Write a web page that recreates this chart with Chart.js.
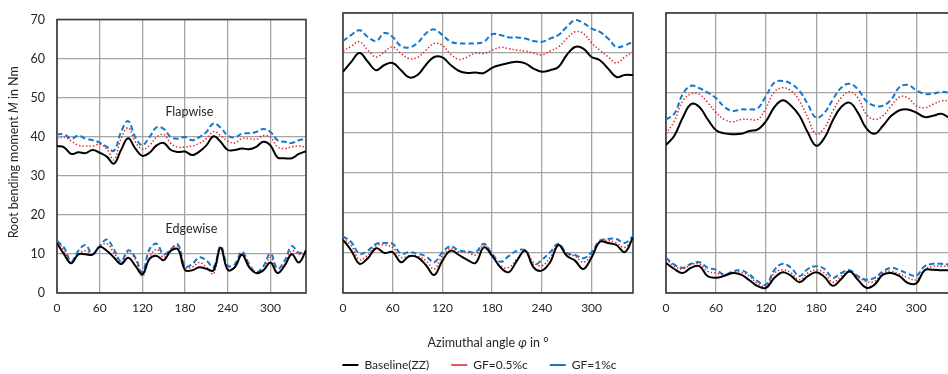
<!DOCTYPE html>
<html>
<head>
<meta charset="utf-8">
<title>Root bending moment</title>
<script src="https://cdn.jsdelivr.net/npm/chart.js@4"></script>
<style>
  html, body { margin: 0; padding: 0; background: #fff; width: 948px; height: 374px; overflow: hidden; }
  canvas { position: absolute; top: 0; }
  #c1 { left: 0; }
  #c2 { left: 280px; }
  #c3 { left: 650px; }
</style>
</head>
<body>
<canvas id="c1" width="308" height="320"></canvas>
<canvas id="c3" width="310" height="320"></canvas>
<canvas id="c2" width="399" height="381"></canvas>
<script>
// azimuthal positions (deg)
const angles = [0, 10, 20, 30, 40, 50, 60, 70, 80, 90, 100, 110, 120, 130, 140, 150, 160, 170,
  180, 190, 200, 210, 220, 230, 240, 250, 260, 270, 280, 290, 300, 310, 320, 330, 340, 350];
const xTicks = [0, 60, 120, 180, 240, 300];
const seriesNames = ["Baseline(ZZ)", "GF=0.5%c", "GF=1%c"];

// case 1
const p1FlapBase = [37.6, 37.3, 35.6, 36.0, 35.8, 36.6, 35.9, 34.9, 33.1, 36.6, 39.6, 37.0, 35.1, 35.9, 37.8, 38.4, 36.6, 36.1,
  36.2, 35.3, 36.2, 37.8, 40.1, 38.7, 36.6, 36.6, 37.0, 36.8, 37.4, 38.7, 37.8, 34.7, 34.5, 34.5, 35.6, 36.3];
const p1FlapHalf = [39.5, 39.9, 38.9, 37.8, 37.6, 37.6, 38.1, 36.8, 34.1, 39.5, 42.3, 38.7, 36.8, 37.8, 39.9, 40.6, 38.3, 37.3,
  37.4, 37.6, 38.3, 39.5, 41.3, 40.3, 38.9, 38.4, 39.5, 39.5, 39.3, 40.3, 39.9, 37.4, 37.0, 37.4, 37.6, 37.3];
const p1FlapOne = [40.6, 40.6, 39.5, 40.3, 39.5, 39.1, 38.5, 37.4, 36.4, 41.2, 44.0, 39.9, 37.8, 39.9, 42.4, 42.0, 39.9, 39.5,
  39.9, 39.1, 39.9, 41.2, 43.4, 42.3, 40.3, 39.8, 40.8, 40.9, 41.2, 42.0, 41.2, 39.1, 38.7, 38.4, 39.1, 39.5];
const p1EdgeBase = [12.8, 9.9, 7.6, 9.9, 9.9, 9.8, 11.8, 10.8, 9.1, 7.4, 9.0, 7.0, 4.8, 8.7, 9.5, 8.4, 10.8, 11.2,
  5.9, 5.8, 6.6, 6.2, 5.8, 11.6, 5.9, 6.6, 9.8, 6.6, 5.1, 5.8, 7.8, 5.1, 7.0, 9.9, 7.8, 10.9];
const p1EdgeHalf = [13.7, 10.8, 7.8, 9.9, 10.8, 9.9, 12.0, 12.6, 10.3, 7.8, 10.3, 8.7, 4.3, 9.1, 11.2, 9.1, 11.2, 12.0,
  6.6, 6.6, 7.8, 6.6, 4.9, 11.6, 6.2, 6.6, 10.1, 7.0, 5.3, 5.8, 9.1, 5.3, 7.4, 10.8, 9.9, 10.3];
const p1EdgeOne = [13.3, 11.6, 8.1, 10.8, 12.3, 9.9, 12.0, 13.7, 11.2, 8.1, 10.9, 9.1, 5.3, 11.2, 12.6, 9.9, 11.2, 12.4,
  6.8, 7.4, 9.1, 8.3, 6.6, 12.0, 7.0, 7.4, 10.6, 7.4, 5.3, 6.8, 10.1, 6.2, 8.3, 12.0, 10.3, 10.8];

// case 2
const p2FlapBase = [55.3, 57.8, 60.0, 57.8, 55.7, 57.0, 57.5, 55.7, 53.9, 54.5, 57.0, 59.0, 58.9, 57.0, 55.5, 55.0, 55.1, 55.0,
  56.3, 57.0, 57.5, 57.8, 57.4, 56.1, 55.3, 55.7, 56.5, 59.5, 61.5, 61.1, 59.0, 58.2, 56.1, 54.0, 54.5, 54.5];
const p2FlapHalf = [60.5, 61.7, 62.8, 60.7, 59.0, 60.3, 61.5, 59.9, 58.6, 58.9, 60.7, 62.4, 61.9, 59.7, 58.4, 59.0, 60.0, 59.9,
  60.7, 61.4, 61.1, 60.7, 60.5, 60.0, 59.5, 60.5, 61.5, 63.6, 65.3, 64.9, 62.5, 60.7, 59.0, 57.5, 59.0, 60.3];
const p2FlapOne = [63.0, 64.5, 65.7, 64.0, 63.0, 65.0, 64.0, 61.7, 61.4, 62.5, 64.9, 65.9, 64.5, 62.8, 62.4, 62.4, 62.4, 62.8,
  64.7, 64.5, 63.9, 63.9, 63.6, 63.0, 62.8, 63.6, 64.5, 66.5, 68.2, 67.5, 66.1, 65.3, 63.6, 61.5, 61.9, 62.8];
const p2EdgeBase = [13.3, 10.6, 7.3, 8.7, 11.2, 10.0, 10.2, 7.7, 9.2, 8.9, 7.0, 4.5, 8.1, 10.6, 9.5, 8.3, 7.5, 11.4,
  9.3, 6.4, 5.2, 8.1, 10.6, 6.4, 5.6, 7.7, 12.0, 9.3, 8.1, 6.0, 8.9, 12.8, 12.5, 12.0, 10.2, 13.9];
const p2EdgeHalf = [13.7, 11.8, 8.3, 9.5, 11.8, 12.0, 11.4, 8.9, 9.3, 9.2, 8.1, 6.0, 9.3, 11.2, 10.3, 10.2, 9.5, 12.0,
  9.5, 6.8, 6.4, 8.5, 10.6, 7.7, 6.8, 8.9, 12.0, 9.8, 9.2, 7.7, 9.5, 12.8, 13.1, 12.5, 11.4, 13.7];
const p2EdgeOne = [14.2, 12.7, 9.8, 10.6, 12.3, 12.5, 12.3, 9.8, 10.2, 9.8, 9.2, 7.7, 10.2, 11.7, 10.6, 10.4, 10.2, 12.3,
  9.8, 7.8, 9.2, 10.6, 10.6, 7.0, 8.3, 10.2, 12.3, 10.0, 9.5, 8.7, 10.2, 13.1, 13.5, 13.5, 12.5, 14.2];

// case 3
const p3FlapBase = [37.0, 39.3, 43.8, 47.2, 46.5, 43.4, 40.7, 39.9, 39.7, 39.8, 40.5, 40.9, 43.0, 46.5, 48.2, 46.8, 44.3, 40.1,
  36.8, 38.8, 43.2, 46.5, 47.6, 45.1, 41.2, 39.8, 41.8, 44.3, 45.7, 45.9, 45.1, 44.0, 44.3, 44.8, 43.8, 43.3];
const p3FlapHalf = [39.8, 43.0, 48.0, 49.8, 49.7, 47.6, 45.1, 43.4, 42.8, 43.4, 43.4, 43.4, 46.3, 50.3, 51.3, 50.5, 48.0, 43.8,
  39.7, 41.3, 45.5, 48.8, 50.3, 48.8, 44.7, 43.4, 44.3, 46.8, 49.0, 48.8, 46.8, 46.3, 47.2, 48.0, 48.0, 47.5];
const p3FlapOne = [43.4, 44.8, 49.7, 51.8, 51.2, 50.1, 48.7, 46.5, 45.5, 45.9, 45.9, 46.2, 49.3, 52.6, 53.0, 52.3, 50.5, 47.2,
  43.8, 45.1, 48.4, 51.3, 52.3, 50.9, 48.0, 46.8, 46.8, 48.4, 51.5, 52.0, 50.7, 49.8, 49.8, 50.3, 50.1, 50.0];
const p3EdgeBase = [7.5, 6.0, 5.0, 6.3, 6.7, 4.2, 3.8, 4.3, 5.0, 4.6, 3.2, 1.7, 1.3, 3.8, 5.2, 4.3, 2.7, 4.2,
  5.2, 4.0, 1.8, 3.5, 5.4, 3.3, 1.3, 2.1, 4.6, 5.0, 4.2, 2.5, 2.4, 5.7, 5.8, 5.7, 5.7, 5.5];
const p3EdgeHalf = [8.5, 6.7, 6.0, 7.1, 7.3, 5.4, 5.0, 4.6, 5.2, 5.2, 4.2, 2.3, 1.7, 5.0, 5.8, 5.0, 3.3, 5.0,
  5.8, 5.0, 2.7, 4.2, 5.4, 4.0, 2.9, 2.9, 5.0, 5.4, 4.8, 3.8, 3.3, 5.8, 6.7, 6.7, 6.7, 6.5];
const p3EdgeOne = [8.8, 7.1, 6.3, 7.3, 7.7, 6.3, 5.8, 4.6, 5.4, 5.7, 4.6, 2.9, 2.1, 5.8, 7.3, 6.3, 4.2, 6.0,
  6.7, 6.0, 3.8, 5.0, 5.7, 4.2, 3.3, 3.8, 5.4, 6.3, 5.7, 4.8, 4.3, 6.7, 7.3, 7.3, 7.1, 7.0];

// text notes inside the first panel: [label, angle, moment]
const notes = [["Flapwise", 186, 46.3], ["Edgewise", 189, 16.3]];

const FONT = "Lato, 'Open Sans', sans-serif";
const TEXT = "#262626";
const styles = [
  { borderColor: "#000000", borderWidth: 2, borderDash: [] },
  { borderColor: "#e02424", borderWidth: 1.5, borderDash: [1.4, 2.1] },
  { borderColor: "#1578cc", borderWidth: 2, borderDash: [5.5, 3] }
];

function buildSets(groups) {
  const sets = [];
  groups.forEach(group => {
    group.forEach((vals, i) => {
      sets.push(Object.assign({
        label: seriesNames[i],
        data: angles.map((a, k) => ({ x: a, y: vals[k] })),
        pointRadius: 0,
        tension: 0.4,
        fill: false
      }, styles[i]));
    });
  });
  return sets;
}

// mixed upright/italic text drawn centred on (x, y)
function drawRich(ctx, parts, x, y, rot) {
  ctx.save();
  ctx.translate(x, y);
  ctx.rotate(rot);
  ctx.textBaseline = "middle";
  ctx.fillStyle = TEXT;
  const fonts = parts.map(p => (p[1] ? "italic " : "") + "12.5px " + FONT);
  const widths = parts.map((p, i) => { ctx.font = fonts[i]; return ctx.measureText(p[0]).width; });
  let cx = -widths.reduce((s, w) => s + w, 0) / 2;
  parts.forEach((p, i) => { ctx.font = fonts[i]; ctx.fillText(p[0], cx, 0); cx += widths[i]; });
  ctx.restore();
}

const framePlugin = {
  id: "frame",
  beforeDatasetsDraw(chart) {
    const { ctx, chartArea: a } = chart;
    ctx.save();
    ctx.strokeStyle = "#3a3a3a";
    ctx.lineWidth = 1.6;
    ctx.strokeRect(a.left, a.top, a.right - a.left, a.bottom - a.top);
    ctx.restore();
  },
  afterDraw(chart, args, opts) {
    const { ctx, chartArea: a, scales } = chart;
    if (opts.notes) {
      ctx.save();
      ctx.font = "12.5px " + FONT;
      ctx.fillStyle = TEXT;
      ctx.textAlign = "center";
      ctx.textBaseline = "middle";
      opts.notes.forEach(n => ctx.fillText(n[0], scales.x.getPixelForValue(n[1]), scales.y.getPixelForValue(n[2])));
      ctx.restore();
    }
    if (opts.yTitle) {
      drawRich(ctx, [["Root bending moment "], ["M", true], [" in Nm"]], 14, (a.top + a.bottom) / 2 - 4, -Math.PI / 2);
    }
    if (opts.xTitle) {
      drawRich(ctx, [["Azimuthal angle "], ["φ", true], [" in °"]], (a.left + a.right) / 2, 343, 0);
    }
  }
};

function makePanel(id, groups, cfg) {
  const scales = {
    x: {
      type: "linear",
      min: 0,
      max: 350,
      afterBuildTicks: s => { s.ticks = xTicks.map(v => ({ value: v })); },
      afterFit: s => { s.height = cfg.xHeight; },
      border: { display: false },
      grid: { color: "#a4a4a4", lineWidth: 1.3, drawTicks: false },
      ticks: { padding: 8, color: TEXT, font: { family: FONT, size: 12 }, maxRotation: 0 }
    },
    y: {
      min: 0,
      max: 70,
      afterFit: s => { s.width = cfg.yWidth; },
      border: { display: false },
      grid: { color: "#a4a4a4", lineWidth: 1.3, drawTicks: false },
      ticks: { display: cfg.yTicks, stepSize: 10, padding: 12, color: TEXT, font: { family: FONT, size: 12.5 } }
    }
  };
  // empty right-hand axis keeps the wide legend centred under the middle panel
  if (cfg.rightWidth) {
    scales.yRight = {
      position: "right",
      afterFit: s => { s.width = cfg.rightWidth; },
      border: { display: false },
      grid: { display: false },
      ticks: { display: false }
    };
  }
  new Chart(document.getElementById(id), {
    type: "line",
    data: { datasets: buildSets(groups) },
    plugins: [framePlugin],
    options: {
      responsive: false,
      animation: false,
      events: [],
      layout: { padding: { top: 13, right: cfg.rightWidth ? 0 : 2, left: 0, bottom: 0 } },
      plugins: {
        tooltip: { enabled: false },
        frame: { notes: cfg.notes, yTitle: cfg.yTitle, xTitle: cfg.legend },
        legend: {
          display: !!cfg.legend,
          position: "bottom",
          labels: {
            filter: item => item.datasetIndex < 3,
            usePointStyle: true,
            pointStyle: "line",
            pointStyleWidth: 16,
            padding: 22,
            color: TEXT,
            font: { family: FONT, size: 12 }
          }
        }
      },
      scales: scales
    }
  });
}

makePanel("c1", [[p1FlapBase, p1FlapHalf, p1FlapOne], [p1EdgeBase, p1EdgeHalf, p1EdgeOne]],
  { yWidth: 57, xHeight: 27, yTicks: true, yTitle: true, notes: notes });
makePanel("c2", [[p2FlapBase, p2FlapHalf, p2FlapOne], [p2EdgeBase, p2EdgeHalf, p2EdgeOne]],
  { yWidth: 63, rightWidth: 46, xHeight: 44, yTicks: false, legend: true });
makePanel("c3", [[p3FlapBase, p3FlapHalf, p3FlapOne], [p3EdgeBase, p3EdgeHalf, p3EdgeOne]],
  { yWidth: 16, xHeight: 27, yTicks: false });
</script>
</body>
</html>
